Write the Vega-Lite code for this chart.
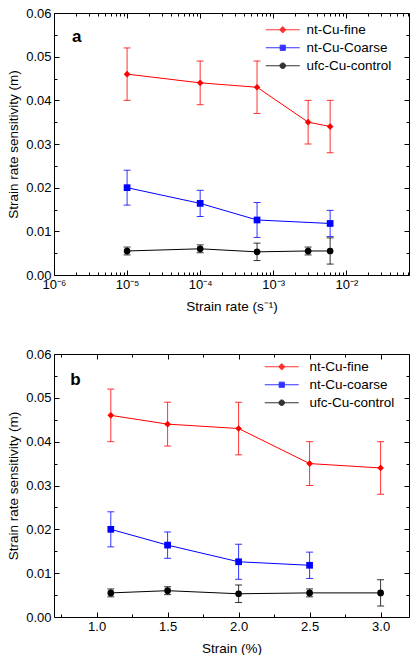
{
  "$schema": "https://vega.github.io/schema/vega-lite/v6.json",
  "padding": {"left": 6, "top": 6, "right": 0, "bottom": 0},
  "spacing": 34,
  "datasets": {
    "a": [
      {"x": 1e-5, "m": 0.046, "lo": 0.040, "hi": 0.052, "series": "nt-Cu-fine"},
      {"x": 1e-4, "m": 0.044, "lo": 0.039, "hi": 0.049, "series": "nt-Cu-fine"},
      {"x": 6e-4, "m": 0.043, "lo": 0.037, "hi": 0.049, "series": "nt-Cu-fine"},
      {"x": 3e-3, "m": 0.035, "lo": 0.030, "hi": 0.040, "series": "nt-Cu-fine"},
      {"x": 6e-3, "m": 0.034, "lo": 0.028, "hi": 0.040, "series": "nt-Cu-fine"},
      {"x": 1e-5, "m": 0.020, "lo": 0.016, "hi": 0.024, "series": "nt-Cu-Coarse"},
      {"x": 1e-4, "m": 0.0164, "lo": 0.0134, "hi": 0.0194, "series": "nt-Cu-Coarse"},
      {"x": 6e-4, "m": 0.0126, "lo": 0.0086, "hi": 0.0166, "series": "nt-Cu-Coarse"},
      {"x": 6e-3, "m": 0.0118, "lo": 0.0088, "hi": 0.0148, "series": "nt-Cu-Coarse"},
      {"x": 1e-5, "m": 0.0055, "lo": 0.0046, "hi": 0.0064, "series": "ufc-Cu-control"},
      {"x": 1e-4, "m": 0.0060, "lo": 0.0051, "hi": 0.0069, "series": "ufc-Cu-control"},
      {"x": 6e-4, "m": 0.0053, "lo": 0.0033, "hi": 0.0073, "series": "ufc-Cu-control"},
      {"x": 3e-3, "m": 0.0055, "lo": 0.0046, "hi": 0.0064, "series": "ufc-Cu-control"},
      {"x": 6e-3, "m": 0.0055, "lo": 0.0025, "hi": 0.0085, "series": "ufc-Cu-control"}
    ],
    "b": [
      {"x": 1.1, "m": 0.046, "lo": 0.040, "hi": 0.052, "series": "nt-Cu-fine"},
      {"x": 1.5, "m": 0.044, "lo": 0.039, "hi": 0.049, "series": "nt-Cu-fine"},
      {"x": 2.0, "m": 0.043, "lo": 0.037, "hi": 0.049, "series": "nt-Cu-fine"},
      {"x": 2.5, "m": 0.035, "lo": 0.030, "hi": 0.040, "series": "nt-Cu-fine"},
      {"x": 3.0, "m": 0.034, "lo": 0.028, "hi": 0.040, "series": "nt-Cu-fine"},
      {"x": 1.1, "m": 0.020, "lo": 0.016, "hi": 0.024, "series": "nt-Cu-coarse"},
      {"x": 1.5, "m": 0.0164, "lo": 0.0134, "hi": 0.0194, "series": "nt-Cu-coarse"},
      {"x": 2.0, "m": 0.0126, "lo": 0.0086, "hi": 0.0166, "series": "nt-Cu-coarse"},
      {"x": 2.5, "m": 0.0118, "lo": 0.0088, "hi": 0.0148, "series": "nt-Cu-coarse"},
      {"x": 1.1, "m": 0.0055, "lo": 0.0046, "hi": 0.0064, "series": "ufc-Cu-control"},
      {"x": 1.5, "m": 0.0060, "lo": 0.0051, "hi": 0.0069, "series": "ufc-Cu-control"},
      {"x": 2.0, "m": 0.0053, "lo": 0.0033, "hi": 0.0073, "series": "ufc-Cu-control"},
      {"x": 2.5, "m": 0.0055, "lo": 0.0046, "hi": 0.0064, "series": "ufc-Cu-control"},
      {"x": 3.0, "m": 0.0055, "lo": 0.0025, "hi": 0.0085, "series": "ufc-Cu-control"}
    ],
    "labA": [{"x": 1.76e-6, "m": 0.0533, "t": "a"}],
    "labB": [{"x": 0.815, "m": 0.053, "t": "b"}]
  },
  "resolve": {
    "scale": {"color": "independent", "shape": "independent", "size": "independent"},
    "legend": {"color": "independent", "shape": "independent"}
  },
  "vconcat": [
    {
      "width": 355,
      "height": 262,
      "resolve": {"axis": {"x": "independent", "y": "independent"}},
      "layer": [
        {
          "data": {"name": "a"},
          "mark": {"type": "line", "strokeWidth": 1},
          "encoding": {
            "x": {"field": "x", "type": "quantitative",
              "scale": {"type": "log", "domain": [1e-6, 0.072], "nice": false},
              "axis": {
                "title": "Strain rate (s⁻¹)",
                "values": [1e-6,2e-6,3e-6,4e-6,5e-6,6e-6,7e-6,8e-6,9e-6,1e-5,2e-5,3e-5,4e-5,5e-5,6e-5,7e-5,8e-5,9e-5,1e-4,2e-4,3e-4,4e-4,5e-4,6e-4,7e-4,8e-4,9e-4,1e-3,2e-3,3e-3,4e-3,5e-3,6e-3,7e-3,8e-3,9e-3,1e-2,2e-2,3e-2,4e-2,5e-2,6e-2,7e-2],
                "labelExpr": "abs(log(datum.value)/LN10 - round(log(datum.value)/LN10)) < 0.01 ? (round(log(datum.value)/LN10) == -6 ? '10⁻⁶' : round(log(datum.value)/LN10) == -5 ? '10⁻⁵' : round(log(datum.value)/LN10) == -4 ? '10⁻⁴' : round(log(datum.value)/LN10) == -3 ? '10⁻³' : '10⁻²') : ''",
                "tickSize": {"condition": {"test": "abs(log(datum.value)/LN10 - round(log(datum.value)/LN10)) < 0.01", "value": -5}, "value": -3},
                "labelPadding": 8,
                "titlePadding": 6
              }},
            "y": {"field": "m", "type": "quantitative",
              "scale": {"domain": [0, 0.06], "nice": false},
              "axis": {
                "title": "Strain rate sensitivity (m)",
                "values": [0,0.005,0.01,0.015,0.02,0.025,0.03,0.035,0.04,0.045,0.05,0.055,0.06],
                "labelExpr": "abs(datum.value*100 - round(datum.value*100)) < 0.01 ? format(datum.value, '.2f') : ''",
                "tickSize": {"condition": {"test": "abs(datum.value*100 - round(datum.value*100)) < 0.01", "value": -5}, "value": -3},
                "labelPadding": 8,
                "titlePadding": 5
              }},
            "color": {"field": "series", "type": "nominal",
              "scale": {"domain": ["nt-Cu-fine", "nt-Cu-Coarse", "ufc-Cu-control"], "range": ["#ff0000", "#0000ff", "#000000"]}}
          }
        },
        {
          "data": {"name": "a"},
          "mark": {"type": "errorbar", "ticks": {"size": 7}, "rule": {"strokeWidth": 1}, "opacity": 0.8},
          "encoding": {
            "x": {"field": "x", "type": "quantitative", "axis": null},
            "y": {"field": "lo", "type": "quantitative", "axis": null},
            "y2": {"field": "hi"},
            "color": {"field": "series", "type": "nominal"}
          }
        },
        {
          "data": {"name": "a"},
          "mark": {"type": "point", "filled": true, "opacity": 1},
          "encoding": {
            "x": {"field": "x", "type": "quantitative",
              "axis": {"orient": "top", "labels": false, "title": null,
                "values": [1e-6,2e-6,3e-6,4e-6,5e-6,6e-6,7e-6,8e-6,9e-6,1e-5,2e-5,3e-5,4e-5,5e-5,6e-5,7e-5,8e-5,9e-5,1e-4,2e-4,3e-4,4e-4,5e-4,6e-4,7e-4,8e-4,9e-4,1e-3,2e-3,3e-3,4e-3,5e-3,6e-3,7e-3,8e-3,9e-3,1e-2,2e-2,3e-2,4e-2,5e-2,6e-2,7e-2],
                "tickSize": {"condition": {"test": "abs(log(datum.value)/LN10 - round(log(datum.value)/LN10)) < 0.01", "value": -5}, "value": -3}}},
            "y": {"field": "m", "type": "quantitative",
              "axis": {"orient": "right", "labels": false, "title": null,
                "values": [0,0.005,0.01,0.015,0.02,0.025,0.03,0.035,0.04,0.045,0.05,0.055,0.06],
                "tickSize": {"condition": {"test": "abs(datum.value*100 - round(datum.value*100)) < 0.01", "value": -5}, "value": -3}}},
            "color": {"field": "series", "type": "nominal",
              "legend": {"title": null, "orient": "none", "legendX": 222, "legendY": 10, "padding": 0,
                "symbolSize": 64, "symbolStrokeWidth": 1, "labelOffset": 17, "rowPadding": 3,
                "labelFontSize": 13.5, "labelFont": "Liberation Sans", "labelColor": "black",
                "symbolType": {"expr": "datum.value == 'nt-Cu-fine' ? 'M-4.25,0H4.25M0,-0.8L0.8,0L0,0.8L-0.8,0Z' : datum.value == 'ufc-Cu-control' ? 'M-4.25,0H4.25M-0.7,0A0.7,0.7,0,1,0,0.7,0A0.7,0.7,0,1,0,-0.7,0Z' : 'M-4.25,0H4.25M-0.65,-0.65H0.65V0.65H-0.65Z'"},
                "symbolStrokeColor": {"expr": "datum.value == 'nt-Cu-fine' ? '#ff0000' : datum.value == 'ufc-Cu-control' ? '#000000' : '#0000ff'"}
              }},
            "shape": {"field": "series", "type": "nominal",
              "scale": {"domain": ["ufc-Cu-control", "nt-Cu-fine", "nt-Cu-Coarse"], "range": ["circle", "diamond", "square"]},
              "legend": null},
            "size": {"field": "series", "type": "ordinal",
              "scale": {"domain": ["nt-Cu-Coarse", "ufc-Cu-control", "nt-Cu-fine"], "range": [45, 45, 100]}, "legend": null}
          }
        },
        {
          "data": {"name": "labA"},
          "mark": {"type": "text", "align": "left", "baseline": "alphabetic", "fontSize": 17, "fontWeight": "bold", "font": "Liberation Sans", "color": "black"},
          "encoding": {
            "x": {"field": "x", "type": "quantitative", "axis": null},
            "y": {"field": "m", "type": "quantitative", "axis": null},
            "text": {"field": "t"}
          }
        }
      ]
    },
    {
      "width": 355,
      "height": 263,
      "resolve": {"axis": {"x": "independent", "y": "independent"}},
      "layer": [
        {
          "data": {"name": "b"},
          "mark": {"type": "line", "strokeWidth": 1},
          "encoding": {
            "x": {"field": "x", "type": "quantitative",
              "scale": {"domain": [0.7, 3.2], "nice": false, "zero": false},
              "axis": {
                "title": "Strain (%)",
                "values": [0.75,1.0,1.25,1.5,1.75,2.0,2.25,2.5,2.75,3.0],
                "labelExpr": "abs(datum.value*2 - round(datum.value*2)) < 0.01 ? format(datum.value, '.1f') : ''",
                "tickSize": {"condition": {"test": "abs(datum.value*2 - round(datum.value*2)) < 0.01", "value": -5}, "value": -3},
                "labelPadding": 8,
                "titlePadding": 6
              }},
            "y": {"field": "m", "type": "quantitative",
              "scale": {"domain": [0, 0.06], "nice": false},
              "axis": {
                "title": "Strain rate sensitivity (m)",
                "values": [0,0.005,0.01,0.015,0.02,0.025,0.03,0.035,0.04,0.045,0.05,0.055,0.06],
                "labelExpr": "abs(datum.value*100 - round(datum.value*100)) < 0.01 ? format(datum.value, '.2f') : ''",
                "tickSize": {"condition": {"test": "abs(datum.value*100 - round(datum.value*100)) < 0.01", "value": -5}, "value": -3},
                "labelPadding": 8,
                "titlePadding": 5
              }},
            "color": {"field": "series", "type": "nominal",
              "scale": {"domain": ["nt-Cu-fine", "nt-Cu-coarse", "ufc-Cu-control"], "range": ["#ff0000", "#0000ff", "#000000"]}}
          }
        },
        {
          "data": {"name": "b"},
          "mark": {"type": "errorbar", "ticks": {"size": 7}, "rule": {"strokeWidth": 1}, "opacity": 0.8},
          "encoding": {
            "x": {"field": "x", "type": "quantitative", "axis": null},
            "y": {"field": "lo", "type": "quantitative", "axis": null},
            "y2": {"field": "hi"},
            "color": {"field": "series", "type": "nominal"}
          }
        },
        {
          "data": {"name": "b"},
          "mark": {"type": "point", "filled": true, "opacity": 1},
          "encoding": {
            "x": {"field": "x", "type": "quantitative",
              "axis": {"orient": "top", "labels": false, "title": null,
                "values": [0.75,1.0,1.25,1.5,1.75,2.0,2.25,2.5,2.75,3.0],
                "tickSize": {"condition": {"test": "abs(datum.value*2 - round(datum.value*2)) < 0.01", "value": -5}, "value": -3}}},
            "y": {"field": "m", "type": "quantitative",
              "axis": {"orient": "right", "labels": false, "title": null,
                "values": [0,0.005,0.01,0.015,0.02,0.025,0.03,0.035,0.04,0.045,0.05,0.055,0.06],
                "tickSize": {"condition": {"test": "abs(datum.value*100 - round(datum.value*100)) < 0.01", "value": -5}, "value": -3}}},
            "color": {"field": "series", "type": "nominal",
              "legend": {"title": null, "orient": "none", "legendX": 221, "legendY": 6, "padding": 0,
                "symbolSize": 64, "symbolStrokeWidth": 1, "labelOffset": 21, "rowPadding": 3,
                "labelFontSize": 13.5, "labelFont": "Liberation Sans", "labelColor": "black",
                "symbolType": {"expr": "datum.value == 'nt-Cu-fine' ? 'M-4.25,0H4.25M0,-0.8L0.8,0L0,0.8L-0.8,0Z' : datum.value == 'ufc-Cu-control' ? 'M-4.25,0H4.25M-0.7,0A0.7,0.7,0,1,0,0.7,0A0.7,0.7,0,1,0,-0.7,0Z' : 'M-4.25,0H4.25M-0.65,-0.65H0.65V0.65H-0.65Z'"},
                "symbolStrokeColor": {"expr": "datum.value == 'nt-Cu-fine' ? '#ff0000' : datum.value == 'ufc-Cu-control' ? '#000000' : '#0000ff'"}
              }},
            "shape": {"field": "series", "type": "nominal",
              "scale": {"domain": ["ufc-Cu-control", "nt-Cu-fine", "nt-Cu-coarse"], "range": ["circle", "diamond", "square"]},
              "legend": null},
            "size": {"field": "series", "type": "ordinal",
              "scale": {"domain": ["nt-Cu-coarse", "ufc-Cu-control", "nt-Cu-fine"], "range": [45, 45, 100]}, "legend": null}
          }
        },
        {
          "data": {"name": "labB"},
          "mark": {"type": "text", "align": "left", "baseline": "alphabetic", "fontSize": 17, "fontWeight": "bold", "font": "Liberation Sans", "color": "black"},
          "encoding": {
            "x": {"field": "x", "type": "quantitative", "axis": null},
            "y": {"field": "m", "type": "quantitative", "axis": null},
            "text": {"field": "t"}
          }
        }
      ]
    }
  ],
  "config": {
    "font": "Liberation Sans",
    "view": {"stroke": "black", "strokeWidth": 1},
    "axis": {
      "grid": false, "domain": false, "tickColor": "black", "tickWidth": 1,
      "labelColor": "black", "titleColor": "black", "labelFontSize": 13, "titleFontSize": 13.5,
      "titleFontWeight": "normal", "labelFont": "Liberation Sans", "titleFont": "Liberation Sans",
      "labelOverlap": false, "labelFlush": false
    }
  }
}
